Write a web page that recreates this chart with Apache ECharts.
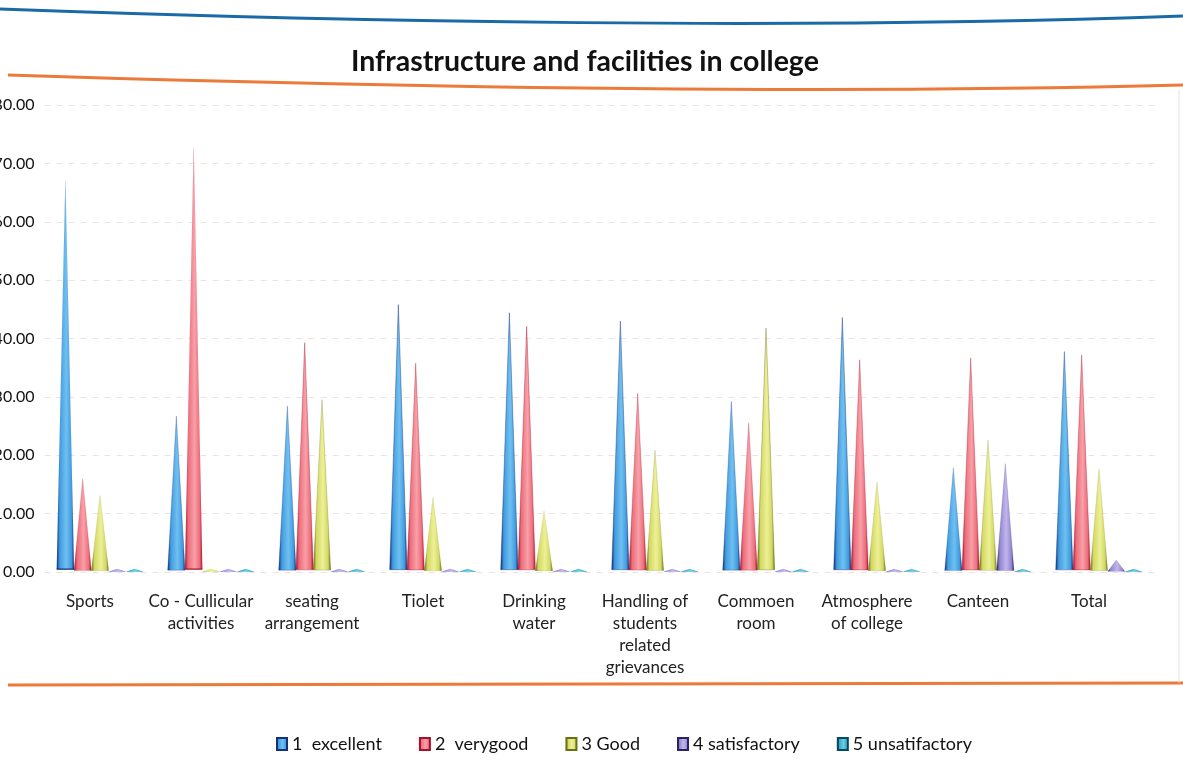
<!DOCTYPE html>
<html>
<head>
<meta charset="utf-8">
<script src="https://cdn.jsdelivr.net/npm/echarts@6/dist/echarts.min.js"></script>
<style>
html,body{margin:0;padding:0;background:#fff;}
#chart{width:1183px;height:773px;}
</style>
</head>
<body>
<div id="chart"></div>
<script>
const titleText = 'Infrastructure and facilities in college';
const categories = ['Sports', 'Co - Cullicular\nactivities', 'seating\narrangement', 'Tiolet', 'Drinking\nwater',
  'Handling of\nstudents\nrelated\ngrievances', 'Commoen\nroom', 'Atmosphere\nof college', 'Canteen', 'Total'];
const seriesNames = ['1  excellent', '2  verygood', '3 Good', '4 satisfactory', '5 unsatifactory'];
const excellent      = [66.6, 26.4, 28.1, 45.4, 44.0, 42.6, 28.9, 43.2, 17.6, 37.4];
const verygood       = [15.8, 72.3, 38.9, 35.4, 41.7, 30.3, 25.2, 36.0, 36.3, 36.8];
const good           = [12.9, 0.5, 29.2, 12.6, 10.3, 20.6, 41.4, 15.2, 22.3, 17.4];
const satisfactory   = [0.5, 0.5, 0.5, 0.5, 0.5, 0.5, 0.5, 0.5, 18.3, 2.0];
const unsatisfactory = [0.5, 0.5, 0.5, 0.5, 0.5, 0.5, 0.5, 0.5, 0.5, 0.5];
const yTicks = { min: 0, max: 80, interval: 10 };

const seriesData = [excellent, verygood, good, satisfactory, unsatisfactory];
const palettes = [
  { edge: '#14307a', mid: '#70c0f0', body: '#409ce0', legend: '#3f8fd0' },
  { edge: '#a8102a', mid: '#f8a0a8', body: '#ec6c7a', legend: '#e4505f' },
  { edge: '#667016', mid: '#eef096', body: '#d2d862', legend: '#c5cd55' },
  { edge: '#2a2064', mid: '#c2b6ec', body: '#9486d0', legend: '#8a7cc8' },
  { edge: '#0a465c', mid: '#6acee2', body: '#32aac4', legend: '#2aa0bc' }
];

function grad(p) {
  return new echarts.graphic.LinearGradient(0, 0, 1, 0, [
    { offset: 0, color: p.edge },
    { offset: 0.18, color: p.body },
    { offset: 0.55, color: p.mid },
    { offset: 0.85, color: p.body },
    { offset: 1, color: p.edge }
  ]);
}

const FONT = 'Lato, "Open Sans", sans-serif';

const series = seriesNames.map((name, i) => ({
  name: name,
  type: 'pictorialBar',
  symbol: 'triangle',
  symbolSize: ['100%', '100%'],
  symbolPosition: 'start',
  barGap: '0%',
  barCategoryGap: '22%',
  itemStyle: { color: grad(palettes[i]), borderColor: palettes[i].edge, borderWidth: 1.2 },
  data: seriesData[i]
}));

const chart = echarts.init(document.getElementById('chart'), null, { renderer: 'canvas' });
chart.setOption({
  backgroundColor: '#ffffff',
  animation: false,
  color: palettes.map(p => p.legend),
  title: {
    text: titleText,
    left: 346,
    top: 42,
    textStyle: { fontFamily: FONT, fontSize: 28.5, fontWeight: 'bold', color: '#111' }
  },
  legend: {
    data: seriesNames,
    left: 271,
    top: 730,
    itemWidth: 10,
    itemHeight: 12,
    itemGap: 37,
    icon: 'rect',
    textStyle: { fontFamily: FONT, fontSize: 18, color: '#111' }
  },
  grid: { left: 44.5, right: 28.5, top: 105, bottom: 201, containLabel: false, outerBoundsMode: 'none' },
  xAxis: {
    type: 'category',
    data: categories,
    axisLine: { show: false },
    axisTick: { show: false },
    axisLabel: {
      fontFamily: FONT, fontSize: 17, color: '#222', lineHeight: 22, margin: 19,
      padding: [0, 20, 0, 0], interval: 0
    }
  },
  yAxis: {
    type: 'value',
    min: yTicks.min, max: yTicks.max, interval: yTicks.interval,
    axisLine: { show: false },
    axisTick: { show: false },
    axisLabel: {
      fontFamily: FONT, fontSize: 16, color: '#111', margin: 10,
      formatter: v => v.toFixed(2)
    },
    splitLine: { lineStyle: { color: '#ece2e2', type: [6, 6], width: 1 } }
  },
  graphic: [
    { type: 'bezierCurve', silent: true,
      shape: { x1: 0, y1: 9, cpx1: 350, cpy1: 22, cpx2: 800, cpy2: 30, x2: 1183, y2: 16 },
      style: { stroke: '#1b6aa8', lineWidth: 3, fill: null } },
    { type: 'bezierCurve', silent: true,
      shape: { x1: 8, y1: 75, cpx1: 350, cpy1: 86, cpx2: 800, cpy2: 95, x2: 1183, y2: 85 },
      style: { stroke: '#ec7a3a', lineWidth: 3, fill: null } },
    { type: 'line', silent: true,
      shape: { x1: 8, y1: 685, x2: 1183, y2: 683 },
      style: { stroke: '#ec7a3a', lineWidth: 3 } },
    { type: 'line', silent: true,
      shape: { x1: 1179, y1: 90, x2: 1179, y2: 683 },
      style: { stroke: '#e2e2e2', lineWidth: 1 } }
  ],
  series: series
});
</script>
</body>
</html>
